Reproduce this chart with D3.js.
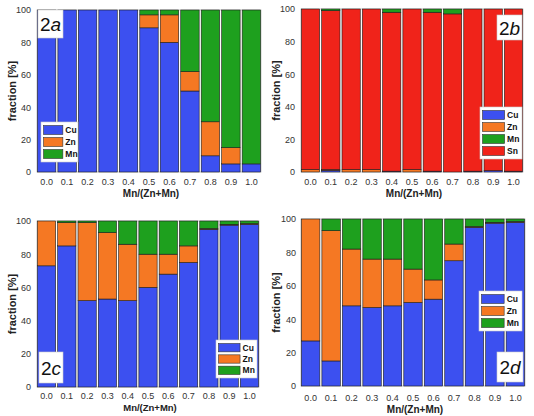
<!DOCTYPE html>
<html><head><meta charset="utf-8">
<script src="https://cdnjs.cloudflare.com/ajax/libs/d3/7.8.5/d3.min.js"></script>
<style>body{margin:0;background:#fff}svg{display:block}</style>
</head><body>
<script>
const xLabels = ["0.0","0.1","0.2","0.3","0.4","0.5","0.6","0.7","0.8","0.9","1.0"];
const yTicks = [0,20,40,60,80,100];

// Panel 2a
const aCu = [100,100,100,100,100,89,80,50,10,5,5];
const aZn = [0,0,0,0,0,8,17,12,21,10,0];
const aMn = [0,0,0,0,0,3,3,38,69,85,95];
// Panel 2b
const bCu = [0,1,0,0,0.5,0,0.5,0,0.5,0.8,0.5];
const bZn = [1.5,0.5,1.5,1.5,0,1.5,0,0,0,0,0];
const bMn = [0,1,0,0,2,0,2,3,0,0,0];
const bSn = [98.5,97.5,98.5,98.5,97.5,98.5,97.5,97,99.5,99.2,99.5];
// Panel 2c
const cCu = [73,85,52,53,52,60,68,75,95,97.5,98];
const cZn = [27,14,47,40,34,20,12,10,0.5,0.5,0.5];
const cMn = [0,1,1,7,14,20,20,15,4.5,2,1.5];
// Panel 2d
const dCu = [27,15,48,47,48,50,52,75,95,97.5,98];
const dZn = [73,78,34,29,28,20,11.5,10,0.5,0.5,0.5];
const dMn = [0,7,18,24,24,30,36.5,15,4.5,2,1.5];

const colors = {Cu:"#3c50f0", Zn:"#f57823", Mn:"#1ea01e", Sn:"#f0231a"};

const W = 534, H = 416;
const svg = d3.select("body").append("svg").attr("width",W).attr("height",H);
const font = "'Liberation Sans', Arial, sans-serif";

const panels = [
  {tag:"2", letter:"a", series:{Cu:aCu,Zn:aZn,Mn:aMn}, stack:["Cu","Zn","Mn"], legend:["Cu","Zn","Mn"],
   x0:37,x1:261,y0:10,y1:172, tickBase:184.5, labY:197, labSize:10, ylabX:13, tickX:31,
   tagBox:[38,10,25,28], legBox:[41,122,37,40]},
  {tag:"2", letter:"b", series:{Cu:bCu,Zn:bZn,Mn:bMn,Sn:bSn}, stack:["Cu","Zn","Sn","Mn"], legend:["Cu","Zn","Mn","Sn"],
   x0:301,x1:523,y0:9,y1:172, tickBase:184.5, labY:197, labSize:10, ylabX:277, tickX:295,
   tagBox:[497,15,25,25], legBox:[480,107,42,52]},
  {tag:"2", letter:"c", series:{Cu:cCu,Zn:cZn,Mn:cMn}, stack:["Cu","Zn","Mn"], legend:["Cu","Zn","Mn"],
   x0:37,x1:259,y0:221,y1:387, tickBase:399, labY:410.5, labSize:9.5, ylabX:13, tickX:31,
   tagBox:[39,352,24,31], legBox:[216,340,41,38]},
  {tag:"2", letter:"d", series:{Cu:dCu,Zn:dZn,Mn:dMn}, stack:["Cu","Zn","Mn"], legend:["Cu","Zn","Mn"],
   x0:301,x1:525,y0:219,y1:386, tickBase:401, labY:412.5, labSize:10, ylabX:277, tickX:296,
   tagBox:[497,352,26,30], legBox:[479,291,43,40]}
];

panels.forEach(p => {
  const g = svg.append("g");
  const x = d3.scaleBand().domain(xLabels).range([p.x0,p.x1]).paddingInner(0.1).paddingOuter(0.02);
  const y = d3.scaleLinear().domain([0,100]).range([p.y1,p.y0]);

  // frame
  g.append("rect").attr("x",p.x0).attr("y",p.y0).attr("width",p.x1-p.x0).attr("height",p.y1-p.y0)
    .attr("fill","#fdfdfb").attr("stroke","#b8b8b8").attr("stroke-width",0.8);

  const rows = xLabels.map((lab,i) => {
    const r = {lab};
    p.stack.forEach(k => r[k] = p.series[k][i]);
    return r;
  });
  const st = d3.stack().keys(p.stack)(rows);
  st.forEach(layer => {
    g.append("g").selectAll("rect").data(layer).join("rect")
      .attr("x", d => x(d.data.lab))
      .attr("width", x.bandwidth())
      .attr("y", d => y(d[1]))
      .attr("height", d => Math.max(0, y(d[0]) - y(d[1])))
      .attr("fill", colors[layer.key])
      .attr("stroke", d => (d[1]-d[0])>0 ? "#1c1c1c" : "none")
      .attr("stroke-width", 0.6);
  });

  // y axis
  const ya = g.append("g").attr("transform",`translate(${p.tickX},0)`)
    .call(d3.axisLeft(y).tickValues(yTicks).tickSize(0).tickPadding(0));
  ya.select(".domain").remove();
  ya.selectAll("text").attr("font-family",font).attr("font-size",9).attr("fill","#333");

  // x axis
  const xa = g.append("g").attr("transform",`translate(0,${p.tickBase})`)
    .call(d3.axisBottom(x).tickSize(0).tickPadding(0));
  xa.select(".domain").remove();
  xa.selectAll("text").attr("y",0).attr("dy",0)
    .attr("font-family",font).attr("font-size",9).attr("fill","#333");

  // axis titles
  g.append("text").attr("x",(p.x0+p.x1)/2 + 2).attr("y",p.labY)
    .attr("text-anchor","middle").attr("font-family",font).attr("font-weight","bold")
    .attr("font-size",p.labSize).attr("fill","#222").text("Mn/(Zn+Mn)");
  g.append("text").attr("transform",`translate(${p.ylabX},${(p.y0+p.y1)/2}) rotate(-90)`)
    .attr("text-anchor","middle").attr("dominant-baseline","middle").attr("font-family",font)
    .attr("font-weight","bold").attr("font-size",11).attr("fill","#222").text("fraction [%]");

  // tag box
  const [tx,ty,tw,th] = p.tagBox;
  g.append("rect").attr("x",tx).attr("y",ty).attr("width",tw).attr("height",th)
    .attr("fill","#fff").attr("stroke","#ccc").attr("stroke-width",0.6);
  const t = g.append("text").attr("x",tx+tw/2).attr("y",ty+th/2).attr("text-anchor","middle")
    .attr("dominant-baseline","central").attr("font-family",font).attr("font-size",19).attr("fill","#111");
  t.append("tspan").text(p.tag);
  t.append("tspan").attr("font-style","italic").text(p.letter);

  // legend
  const [lx,ly,lw,lh] = p.legBox;
  g.append("rect").attr("x",lx).attr("y",ly).attr("width",lw).attr("height",lh)
    .attr("fill","#fff").attr("stroke","#ccc").attr("stroke-width",0.6);
  const rh = (lh-4)/p.legend.length;
  p.legend.forEach((k,i) => {
    const yy = ly + 2 + i*rh;
    g.append("rect").attr("x",lx+2.5).attr("y",yy+1.5).attr("width",lw*0.55 - 1).attr("height",rh-3)
      .attr("fill",colors[k]).attr("stroke","#333").attr("stroke-width",0.6);
    g.append("text").attr("x",lx+lw*0.55+4).attr("y",yy+rh/2).attr("dominant-baseline","central")
      .attr("font-family",font).attr("font-weight","bold").attr("font-size",8.5).attr("fill","#111").text(k);
  });
});
</script>
</body></html>
